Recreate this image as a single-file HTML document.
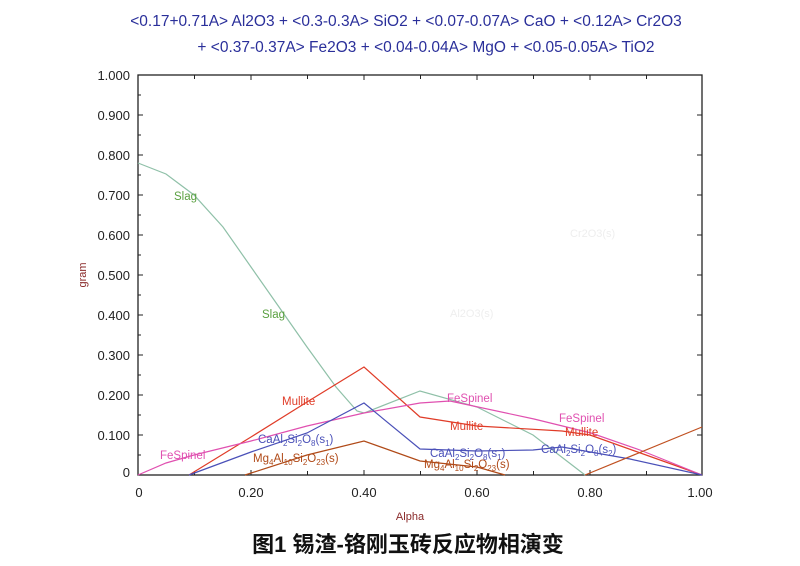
<!DOCTYPE html>
<html><head><meta charset="utf-8"><style>
body{margin:0;background:#fff;}
svg text{font-family:"Liberation Sans",sans-serif;}
</style></head><body>
<svg width="800" height="561" viewBox="0 0 800 561" xmlns="http://www.w3.org/2000/svg">
<rect width="800" height="561" fill="#fff"/>
<g fill="#2a2f9a" font-size="15.5" text-anchor="middle">
<text x="406" y="26">&lt;0.17+0.71A&gt; Al2O3 +  &lt;0.3-0.3A&gt; SiO2 +  &lt;0.07-0.07A&gt; CaO + &lt;0.12A&gt; Cr2O3</text>
<text x="426" y="52">+ &lt;0.37-0.37A&gt; Fe2O3 +  &lt;0.04-0.04A&gt; MgO +  &lt;0.05-0.05A&gt; TiO2</text>
</g>
<rect x="138" y="75" width="564" height="400" fill="none" stroke="#222" stroke-width="1.3"/>
<g stroke="#222" stroke-width="1">
<path d="M138 115h5M138 155h5M138 195h5M138 235h5M138 275h5M138 315h5M138 355h5M138 395h5M138 435h5
M138 95h3M138 135h3M138 175h3M138 215h3M138 255h3M138 295h3M138 335h3M138 375h3M138 415h3M138 455h3
M702 115h-5M702 155h-5M702 195h-5M702 235h-5M702 275h-5M702 315h-5M702 355h-5M702 395h-5M702 435h-5
M194.5 475v-4M251 475v-5M307.5 475v-4M364 475v-5M420.5 475v-4M477 475v-5M533.5 475v-4M590 475v-5M646.5 475v-4
M194.5 75v4M251 75v5M307.5 75v4M364 75v5M420.5 75v4M477 75v5M533.5 75v4M590 75v5M646.5 75v4"/>
</g>
<g font-size="13" fill="#222" text-anchor="end">
<text x="130" y="80">1.000</text><text x="130" y="120">0.900</text><text x="130" y="160">0.800</text>
<text x="130" y="200">0.700</text><text x="130" y="240">0.600</text><text x="130" y="280">0.500</text>
<text x="130" y="320">0.400</text><text x="130" y="360">0.300</text><text x="130" y="400">0.200</text>
<text x="130" y="440">0.100</text><text x="130" y="477">0</text>
</g>
<g font-size="13" fill="#222" text-anchor="middle">
<text x="139" y="497">0</text><text x="251" y="497">0.20</text><text x="364" y="497">0.40</text>
<text x="477" y="497">0.60</text><text x="590" y="497">0.80</text><text x="700" y="497">1.00</text>
</g>
<text x="410" y="520" font-size="11" fill="#8a2a2a" text-anchor="middle">Alpha</text>
<text x="86" y="275" font-size="11" fill="#8a2a2a" text-anchor="middle" transform="rotate(-90 86 275)">gram</text>
<text x="570" y="237" font-size="11" fill="#eee">Cr2O3(s)</text>
<text x="450" y="317" font-size="11" fill="#eee">Al2O3(s)</text>
<g fill="none" stroke-width="1.2">
<polyline stroke="#8fc0a8" points="138,163 166,174 194,195 223,227 251,267 279,307 307,347 336,387 357,411 364,413 420,391 477,407 533,435 585,475"/>
<polyline stroke="#e03c28" points="189,475 251,437 307,402 364,367 420,417 477,426 562,431 590,435 702,475"/>
<polyline stroke="#e050b0" points="138,475 166,463 194,455 251,441 307,426 364,413 420,403 450,401 534,419 591,433 640,450 702,475"/>
<polyline stroke="#4a50b8" points="189,475 251,452 307,433 364,403 420,449 477,451 533,450 562,447 630,459 702,475"/>
<polyline stroke="#b04a18" points="245,475 307,455 364,441 420,461 477,467 505,475"/>
<polyline stroke="#c05020" points="585,475 702,427"/>
</g>
<g font-size="11.5">
<text x="174" y="200" fill="#5aa040">Slag</text>
<text x="262" y="318" fill="#5aa040">Slag</text>
<text x="282" y="405" fill="#e03c28">Mullite</text>
<text x="450" y="430" fill="#e03c28">Mullite</text>
<text x="565" y="436" fill="#e03c28">Mullite</text>
<text x="160" y="459" fill="#e050b0">FeSpinel</text>
<text x="447" y="402" fill="#e050b0">FeSpinel</text>
<text x="559" y="422" fill="#e050b0">FeSpinel</text>
<text x="258" y="443" fill="#4a50b8">CaAl<tspan font-size="8" dy="3">2</tspan><tspan dy="-3">Si</tspan><tspan font-size="8" dy="3">2</tspan><tspan dy="-3">O</tspan><tspan font-size="8" dy="3">8</tspan><tspan dy="-3">(s</tspan><tspan font-size="8" dy="3">1</tspan><tspan dy="-3">)</tspan></text>
<text x="430" y="457" fill="#4a50b8">CaAl<tspan font-size="8" dy="3">2</tspan><tspan dy="-3">Si</tspan><tspan font-size="8" dy="3">2</tspan><tspan dy="-3">O</tspan><tspan font-size="8" dy="3">8</tspan><tspan dy="-3">(s</tspan><tspan font-size="8" dy="3">1</tspan><tspan dy="-3">)</tspan></text>
<text x="541" y="453" fill="#4a50b8">CaAl<tspan font-size="8" dy="3">2</tspan><tspan dy="-3">Si</tspan><tspan font-size="8" dy="3">2</tspan><tspan dy="-3">O</tspan><tspan font-size="8" dy="3">8</tspan><tspan dy="-3">(s</tspan><tspan font-size="8" dy="3">2</tspan><tspan dy="-3">)</tspan></text>
<text x="253" y="462" fill="#b04a18">Mg<tspan font-size="8" dy="3">4</tspan><tspan dy="-3">Al</tspan><tspan font-size="8" dy="3">10</tspan><tspan dy="-3">Si</tspan><tspan font-size="8" dy="3">2</tspan><tspan dy="-3">O</tspan><tspan font-size="8" dy="3">23</tspan><tspan dy="-3">(s)</tspan></text>
<text x="424" y="468" fill="#b04a18">Mg<tspan font-size="8" dy="3">4</tspan><tspan dy="-3">Al</tspan><tspan font-size="8" dy="3">10</tspan><tspan dy="-3">Si</tspan><tspan font-size="8" dy="3">2</tspan><tspan dy="-3">O</tspan><tspan font-size="8" dy="3">23</tspan><tspan dy="-3">(s)</tspan></text>
</g>
<text x="408" y="552" font-size="22" font-weight="bold" fill="#111" text-anchor="middle" style="font-family:'Liberation Sans','Noto Sans CJK SC',sans-serif">图1 锡渣-铬刚玉砖反应物相演变</text>
</svg>
</body></html>
